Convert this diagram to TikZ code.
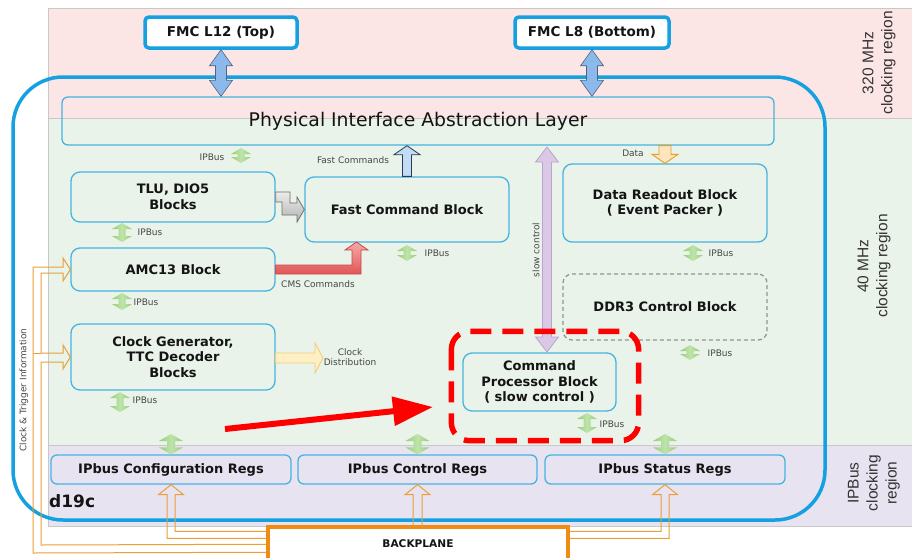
\documentclass[tikz,border=0pt]{standalone}
\usepackage{fontspec}
\setmainfont{DejaVu Sans}
\newfontfamily\arialf{Liberation Sans}
\usetikzlibrary{arrows.meta,calc}
\definecolor{pinkbg}{RGB}{252,229,229}
\definecolor{greenbg}{RGB}{234,243,233}
\definecolor{purplebg}{RGB}{232,227,240}
\definecolor{regline}{RGB}{200,200,200}
\definecolor{bigblue}{RGB}{20,160,225}
\definecolor{blkblue}{RGB}{70,180,225}
\definecolor{ipgreen}{RGB}{150,205,120}
\definecolor{ipgreenl}{RGB}{190,228,170}
\definecolor{fmcarrow}{RGB}{140,185,235}
\definecolor{fmcarrowd}{RGB}{80,100,130}
\definecolor{fastfill}{RGB}{195,220,245}
\definecolor{fastline}{RGB}{40,60,90}
\definecolor{datafill}{RGB}{255,228,190}
\definecolor{dataline}{RGB}{225,160,40}
\definecolor{clkfill}{RGB}{255,240,195}
\definecolor{clkline}{RGB}{240,205,130}
\definecolor{cmslight}{RGB}{245,170,170}
\definecolor{cmsdark}{RGB}{225,85,85}
\definecolor{cmsline}{RGB}{205,70,70}
\definecolor{grayline}{RGB}{110,110,110}
\definecolor{slowfill}{RGB}{218,200,230}
\definecolor{slowline}{RGB}{185,165,205}
\definecolor{orangeln}{RGB}{232,160,55}
\definecolor{bporange}{RGB}{240,140,20}
\definecolor{txtgray}{RGB}{70,70,70}
\definecolor{blktxt}{RGB}{20,20,20}
% fat arrows: #1 style, #2 first point, #3 second point, #4 shaft half, #5 head half, #6 head length
\newcommand{\fatdv}[6]{\draw[#1] let \p1=#2, \p2=#3 in (\x1,\y1) -- (\x1+#5,\y1-#6) -- (\x1+#4,\y1-#6) -- (\x1+#4,\y2+#6) -- (\x1+#5,\y2+#6) -- (\x1,\y2) -- (\x1-#5,\y2+#6) -- (\x1-#4,\y2+#6) -- (\x1-#4,\y1-#6) -- (\x1-#5,\y1-#6) -- cycle;}
\newcommand{\fatup}[6]{\draw[#1] let \p1=#2, \p2=#3 in (\x1,\y1) -- (\x1+#5,\y1-#6) -- (\x1+#4,\y1-#6) -- (\x1+#4,\y2) -- (\x1-#4,\y2) -- (\x1-#4,\y1-#6) -- (\x1-#5,\y1-#6) -- cycle;}
\newcommand{\fatdown}[6]{\draw[#1] let \p1=#2, \p2=#3 in (\x1,\y1) -- (\x1+#5,\y1+#6) -- (\x1+#4,\y1+#6) -- (\x1+#4,\y2) -- (\x1-#4,\y2) -- (\x1-#4,\y1+#6) -- (\x1-#5,\y1+#6) -- cycle;}
\newcommand{\fatright}[6]{\draw[#1] let \p1=#2, \p2=#3 in (\x1,\y1) -- (\x1-#6,\y1+#5) -- (\x1-#6,\y1+#4) -- (\x2,\y1+#4) -- (\x2,\y1-#4) -- (\x1-#6,\y1-#4) -- (\x1-#6,\y1-#5) -- cycle;}
\begin{document}
\begin{tikzpicture}[x=1pt,y=-1pt,
 blk/.style={draw=blkblue, line width=1.3pt, rounded corners=9pt, align=center, inner sep=0pt, font=\bfseries\fontsize{13}{15.5}\selectfont, text=blktxt},
 regbox/.style={blk, rounded corners=6pt, font=\bfseries\fontsize{13}{15}\selectfont},
 fmc/.style={draw=bigblue, line width=3.5pt, rounded corners=4pt, fill=white, font=\bfseries\fontsize{13.5}{16}\selectfont, inner sep=0pt, text=blktxt},
 lbl/.style={font=\fontsize{9}{10.5}\selectfont, text=txtgray, inner sep=1pt, align=center},
 reglbl/.style={font=\arialf\fontsize{15.5}{19}\selectfont, text=black!80, align=center, rotate=90},
 ipb/.style={left color=ipgreen, right color=ipgreen, middle color=ipgreenl, draw=none},
 fmcar/.style={fill=fmcarrow, draw=fmcarrowd, line width=0.6pt},
 fastar/.style={fill=fastfill, draw=fastline, line width=0.8pt},
 dataar/.style={fill=datafill, draw=dataline, line width=0.9pt},
 clkar/.style={fill=clkfill, draw=clkline, line width=0.9pt},
 slowar/.style={fill=slowfill, draw=slowline, line width=0.8pt},
 grayar/.style={top color=gray!15, bottom color=gray!60, draw=grayline, line width=0.8pt},
 cmsar/.style={top color=cmslight, bottom color=cmsdark, draw=cmsline, line width=0.8pt},
 ol/.style={draw=orangeln, line width=1pt, line join=miter}
]
\useasboundingbox (0,0) rectangle (912,557);
% clocking regions
\fill[pinkbg] (48,8) rectangle (912,118);
\fill[greenbg] (48,118) rectangle (912,445);
\fill[purplebg] (48,445) rectangle (912,526);
\draw[regline, line width=0.6pt] (48,8) -- (912,8) (48,118) -- (912,118) (48,445) -- (912,445) (48,526) -- (912,526) (48,8) -- (48,526);
\node[reglbl] (r320) at (879,63) {320 MHz\\clocking region};
\node[reglbl] (r40) at (874,266) {40 MHz\\clocking region};
\node[reglbl] (ripb) at (874,483) {IPBus\\clocking\\region};
% d19c border
\draw[bigblue, line width=3.5pt, rounded corners=50pt] (13,77) rectangle (825,520);
\node[font=\bfseries\fontsize{17}{20}\selectfont, anchor=west, inner sep=0pt, text=blktxt] (d19c) at (49,501) {d19c};
% blocks
\node[fmc, minimum width=152, minimum height=31] (fmcA) at (221,32.5) {FMC L12 (Top)};
\node[fmc, minimum width=154, minimum height=31] (fmcB) at (592,32.5) {FMC L8 (Bottom)};
\node[blk, rounded corners=6pt, minimum width=712, minimum height=48, font=\fontsize{18.8}{22}\selectfont] (pial) at (418,121) {Physical Interface Abstraction Layer};
\node[blk, minimum width=204, minimum height=50] (tlu) at (173,197) {TLU, DIO5\\Blocks};
\node[blk, minimum width=204, minimum height=65] (fcb) at (407,209.5) {Fast Command Block};
\node[blk, minimum width=204, minimum height=43] (amc) at (173,269.5) {AMC13 Block};
\node[blk, minimum width=204, minimum height=66] (clk) at (173,357) {Clock Generator,\\TTC Decoder\\Blocks};
\node[blk, minimum width=204, minimum height=78] (drb) at (665,203) {Data Readout Block\\( Event Packer )};
\node[blk, draw=gray!85, dash pattern=on 4pt off 3pt, minimum width=204, minimum height=66] (ddr) at (665,307) {DDR3 Control Block};
\node[blk, minimum width=153, minimum height=58] (cpb) at (539.5,382) {Command\\Processor Block\\( slow control )};
\node[regbox, minimum width=240, minimum height=29] (cfg) at (171,469.5) {IPbus Configuration Regs};
\node[regbox, minimum width=239, minimum height=29] (ctl) at (417.5,469.5) {IPbus Control Regs};
\node[regbox, minimum width=240, minimum height=29] (sts) at (665,469.5) {IPbus Status Regs};
\node[draw=bporange, line width=3.5pt, fill=white, minimum width=300, minimum height=34, font=\bfseries\fontsize{10.6}{12}\selectfont, inner sep=0pt, text=blktxt] (bp) at (418,544) {BACKPLANE};
% FMC links
\fatdv{fmcar}{(fmcA.south)}{(fmcA.south |- pial.north)}{5.5pt}{11.5pt}{16pt}
\fatdv{fmcar}{(fmcB.south)}{(fmcB.south |- pial.north)}{5.5pt}{11.5pt}{16pt}
% fast commands
\fatup{fastar}{(fcb.north |- pial.south)}{(fcb.north)}{4.5pt}{13pt}{9pt}
\node[lbl] (lfast) at (353,160) {Fast Commands};
% data
\fatdown{dataar}{(drb.north)}{(drb.north |- pial.south)}{6pt}{13pt}{9pt}
\node[lbl] (ldata) at (633,153) {Data};
% slow control
\fatdv{slowar}{(547,147)}{(547,352)}{4.5pt}{11.5pt}{15pt}
\node[lbl, rotate=90] (lslow) at (536,250) {slow control};
% clock distribution
\fatright{clkar}{(323,358)}{(clk.east)}{5pt}{15pt}{8pt}
\node[lbl] (lclk) at (350,357) {Clock\\Distribution};
% TLU -> fast command
\draw[grayar] (tlu.east |- 0,192) -- (290,192) -- (290,203) -- (297,203) -- (297,197) -- (fcb.west) -- (297,222) -- (297,215) -- (282,215) -- (282,202) -- (tlu.east |- 0,202) -- cycle;
% AMC13 -> fast command (CMS commands)
\draw[cmsar] (amc.east |- 0,265) -- (352,265) -- (352,250) -- (345,250) -- (356.5,242) -- (368,250) -- (361,250) -- (361,274) -- (amc.east |- 0,274) -- cycle;
\node[lbl] (lcms) at (318,284) {CMS Commands};
% IPBus arrows
\fatdv{ipb}{(241,148)}{(241,163)}{3.5pt}{10pt}{6pt}
\node[lbl] (lip1) at (212,157) {IPBus};
\fatdv{ipb}{(122,223)}{(122,242)}{3.5pt}{10pt}{6pt}
\node[lbl] (lip2) at (150,232) {IPBus};
\fatdv{ipb}{(407,245)}{(407,261)}{3.5pt}{10pt}{6pt}
\node[lbl] (lip3) at (437,253) {IPBus};
\fatdv{ipb}{(122,293)}{(122,310)}{3.5pt}{10pt}{6pt}
\node[lbl] (lip4) at (146,302) {IPBus};
\fatdv{ipb}{(120,392)}{(120,412)}{3.5pt}{10pt}{6pt}
\node[lbl] (lip5) at (145,400) {IPBus};
\fatdv{ipb}{(693,245)}{(693,261)}{3.5pt}{10pt}{6pt}
\node[lbl] (lip6) at (721,253) {IPBus};
\fatdv{ipb}{(690,345)}{(690,360)}{3.5pt}{10pt}{6pt}
\node[lbl] (lip7) at (720,353) {IPBus};
\fatdv{ipb}{(587,413)}{(587,433)}{3.5pt}{10pt}{6pt}
\node[lbl] (lip8) at (612,424) {IPBus};
\fatdv{ipb}{(cfg.north |- 0,434)}{(cfg.north)}{4pt}{12pt}{7pt}
\fatdv{ipb}{(ctl.north |- 0,434)}{(ctl.north)}{4pt}{12pt}{7pt}
\fatdv{ipb}{(sts.north |- 0,434)}{(sts.north)}{4pt}{12pt}{7pt}
% backplane -> registers
\draw[ol] ($(bp.north west)+(0,13)$) -| ($(cfg.south)+(-4,10)$) -- ++(-8.5,0) -- (cfg.south) -- ++(12.5,10) -- ++(-8.5,0) |- ($(bp.north west)+(0,6)$);
\draw[ol] ($(ctl.south)+(-4.5,42)$) -- ++(0,-32) -- ++(-8,0) -- (ctl.south) -- ++(12.5,10) -- ++(-8,0) -- ++(0,32);
\draw[ol] ($(bp.north east)+(0,6)$) -| ($(sts.south)+(-4,10)$) -- ++(-8.5,0) -- (sts.south) -- ++(12.5,10) -- ++(-8.5,0) |- ($(bp.north east)+(0,13)$);
% backplane -> clock & trigger inputs
\draw[ol] ($(bp.north west)+(0,27)$) -- (33,553) -- (33,267) -- (63,267) -- (63,258) -- (amc.west) -- (63,281) -- (63,273) -- (41,273) -- (41,353) -- (63,353) -- (63,345) -- (clk.west) -- (63,369) -- (63,362) -- (41,362) -- (41,545) -- ($(bp.north west)+(0,19)$);
\draw[ol] (33,353) -- (41,353);
\node[lbl, rotate=90] (lct) at (24,390) {Clock \& Trigger Information};
% red highlight
\draw[red, line width=5.5pt, dash pattern=on 21pt off 11pt, rounded corners=18pt] ($(cpb.north west)+(-11,-21)$) rectangle ($(cpb.south east)+(22,29)$);
\coordinate (rtail) at (225,429);
\coordinate (rtip) at (433,407);
\draw[red, line width=6pt, -{Triangle[length=40pt,width=28pt]}] (rtail) -- (rtip);
\end{tikzpicture}
\end{document}
